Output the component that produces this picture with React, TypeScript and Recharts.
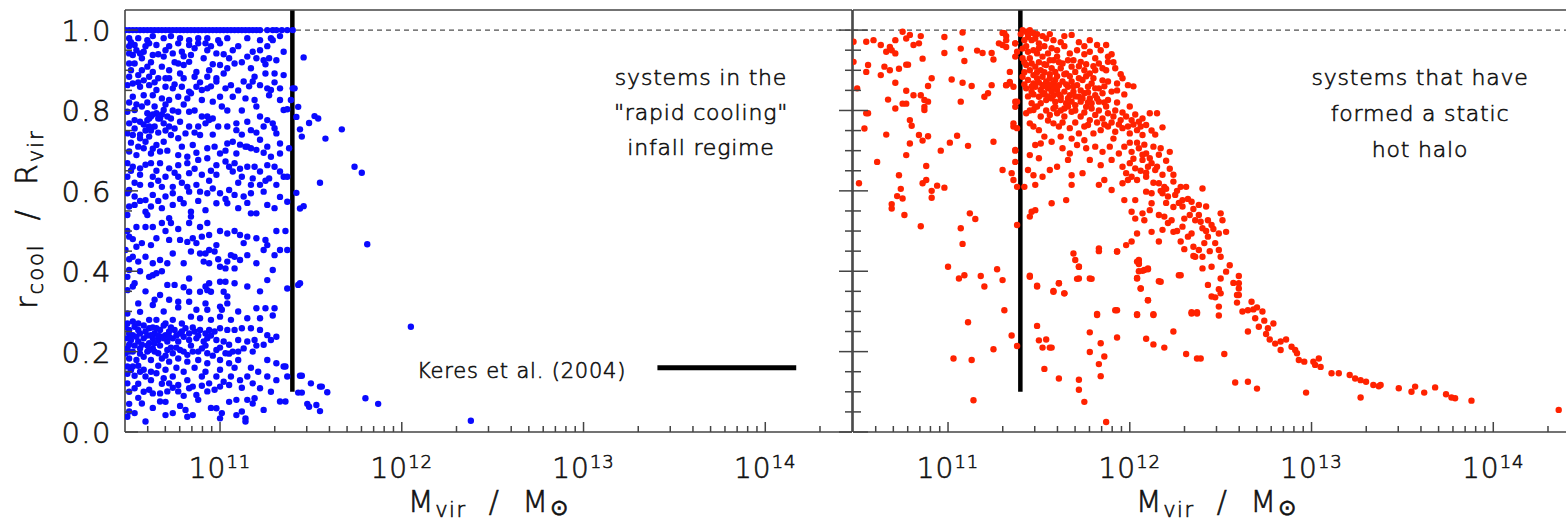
import React from 'react';
import { ReferenceLine, Scatter, ScatterChart, XAxis, YAxis } from 'recharts';

const FONT = '"DejaVu Sans", "Liberation Sans", sans-serif';
const INK = '#111';
const AXIS = '#444';
const BLUE = '#0a0aff';
const RED = '#ff2200';

// axes: virial mass (log) and r_cool / R_vir
const MASS_DOMAIN = [3e10, 3e14];
const R_DOMAIN = [0, 1.05];
const DECADES = [1e11, 1e12, 1e13, 1e14];
const MINOR_STEPS = [2, 3, 4, 5, 6, 7, 8, 9];
const LOW_MINORS = [4e10, 5e10, 6e10, 7e10, 8e10, 9e10];
const R_TICKS = [0, 0.05, 0.1, 0.15, 0.2, 0.25, 0.3, 0.35, 0.4, 0.45, 0.5, 0.55, 0.6, 0.65, 0.7, 0.75, 0.8, 0.85, 0.9, 0.95, 1.0];

// Keres et al. (2004) transition mass, drawn as the vertical bar
const CUT_MASS = 2.5e11;
const CUT_FLOOR = 0.1;
const KERES_SPAN = [2.55e13, 1.48e14];
const KERES_Y = 0.16;

// blue: log10(Mvir) of the haloes pinned at r_cool = R_vir
const BLUE_AT_UNITY = [
  10.48, 10.5, 10.52, 10.54, 10.56, 10.58, 10.6, 10.62, 10.64, 10.66, 10.68, 10.7, 10.72, 10.74, 10.76,
  10.78, 10.8, 10.82, 10.84, 10.86, 10.88, 10.9, 10.92, 10.94, 10.96, 10.98, 11.0, 11.02, 11.04, 11.06,
  11.08, 11.1, 11.12, 11.14, 11.16, 11.18, 11.2, 11.22, 11.26, 11.29, 11.31, 11.34, 11.37, 11.4,
];

// blue: [log10 Mvir, r_cool/R_vir], upper half
const BLUE_UPPER = [
  [10.5, .98], [10.55, .98], [10.6, .975], [10.63, .985], [10.69, .98], [10.73, .985], [10.78, .98], [10.83, .975], [10.88, .98], [10.93, .98], [10.99, .975], [11.04, .98], [11.15, .98], [11.22, .975], [11.28, .98], [11.33, .985],
  [10.5, .96], [10.53, .963], [10.58, .946], [10.61, .967], [10.65, .963], [10.72, .96], [10.77, .967], [10.83, .963], [10.88, .967], [10.92, .967], [10.95, .96], [11.0, .967], [11.1, .96], [11.18, .946], [11.22, .95], [11.26, .96], [11.29, .975], [11.35, .946],
  [10.5, .942], [10.52, .938], [10.56, .942], [10.63, .938], [10.69, .934], [10.74, .942], [10.79, .946], [10.84, .938], [10.93, .95], [10.98, .942], [11.05, .93], [11.15, .934], [11.24, .925], [11.27, .93], [11.31, .925],
  [10.5, .917], [10.53, .917], [10.57, .9], [10.6, .909], [10.63, .896], [10.68, .909], [10.72, .9], [10.77, .917], [10.8, .913], [10.83, .921], [10.87, .896], [10.94, .9], [11.0, .913], [11.04, .905], [11.08, .917], [11.17, .905], [11.19, .884], [11.25, .892], [11.3, .892], [11.35, .888],
  [10.5, .884], [10.55, .888], [10.61, .884], [10.66, .88], [10.72, .88], [10.78, .892], [10.86, .884], [10.93, .884], [10.98, .88], [11.02, .892],
  [10.49, .863], [10.52, .867], [10.56, .859], [10.61, .863], [10.65, .851], [10.7, .859], [10.74, .855], [10.79, .859], [10.83, .847], [10.84, .843], [10.87, .859], [10.9, .851], [10.93, .855], [10.98, .872], [11.06, .863], [11.13, .872], [11.18, .872], [11.22, .863], [11.26, .855], [11.28, .851], [11.33, .855],
  [10.52, .834], [10.58, .838], [10.63, .838], [10.68, .83], [10.72, .826], [10.77, .834], [10.82, .83], [10.9, .826], [10.96, .822], [11.0, .834], [11.07, .834], [11.14, .83], [11.19, .826], [11.27, .838], [11.33, .826], [11.4, .855], [11.39, .826],
  [10.49, .797], [10.53, .801], [10.6, .793], [10.62, .785], [10.65, .793], [10.67, .78], [10.69, .801], [10.71, .785], [10.73, .78], [10.77, .797], [10.83, .797], [10.9, .785], [10.93, .785], [10.96, .78], [11.01, .81], [11.09, .768], [11.15, .772], [11.22, .785], [11.26, .776], [11.29, .768], [11.35, .801], [11.37, .803],
  [10.5, .768], [10.53, .776], [10.56, .772], [10.6, .776], [10.64, .76], [10.69, .768], [10.72, .76], [10.78, .772], [10.83, .76], [10.88, .76], [10.92, .768], [10.94, .776], [10.99, .76], [11.04, .76], [11.09, .751], [11.17, .751], [11.24, .76], [11.3, .756], [11.31, .743],
  [10.61, .78], [10.63, .79], [10.66, .78], [10.68, .79], [10.61, .76], [10.56, .74], [10.59, .75],
  [10.49, .743], [10.52, .739], [10.56, .731], [10.59, .722], [10.61, .735], [10.65, .714], [10.69, .722], [10.73, .739], [10.77, .731], [10.81, .743], [10.85, .714], [10.89, .739], [10.93, .706], [10.97, .71], [11.04, .718], [11.07, .722], [11.14, .71], [11.17, .706], [11.22, .727], [11.26, .71], [11.33, .718], [11.38, .706],
  [10.5, .698], [10.54, .689], [10.58, .706], [10.62, .693], [10.67, .698], [10.77, .689], [10.82, .685], [10.93, .681], [11.0, .693], [11.09, .693], [11.15, .71], [11.2, .702], [11.28, .685], [11.33, .693],
  [10.49, .669], [10.52, .66], [10.56, .656], [10.62, .669], [10.67, .669], [10.72, .656], [10.77, .664], [10.82, .669], [10.88, .677], [10.98, .664], [11.03, .673], [11.08, .669], [11.15, .66], [11.19, .66], [11.22, .648], [11.26, .664], [11.33, .648],
  [10.49, .635], [10.56, .64], [10.63, .635], [10.7, .635], [10.77, .635], [10.83, .644], [10.9, .64], [10.98, .64], [11.07, .648], [11.12, .635], [11.18, .631], [11.27, .631], [11.35, .635], [11.37, .635],
  [10.5, .602], [10.56, .615], [10.62, .615], [10.68, .61], [10.74, .61], [10.82, .61], [10.87, .615], [10.96, .606], [11.05, .602], [11.17, .615], [11.22, .615], [11.31, .615],
  [10.49, .594], [10.53, .586], [10.59, .577], [10.63, .59], [10.7, .586], [10.74, .594], [10.83, .598], [10.89, .598], [10.93, .594], [11.0, .594], [11.08, .59], [11.13, .586], [11.17, .594], [11.24, .598],
  [10.5, .561], [10.53, .565], [10.59, .548], [10.62, .561], [10.68, .557], [10.74, .565], [10.8, .569], [10.84, .548], [10.92, .552], [10.98, .569], [11.04, .569], [11.1, .557], [11.17, .544], [11.2, .544], [11.26, .565], [11.3, .557], [11.37, .573],
  [10.49, .54], [10.6, .54], [10.72, .532], [10.84, .536],
  [10.51, .97], [10.54, .95], [10.57, .93], [10.59, .96], [10.62, .92], [10.66, .94], [10.7, .95], [10.75, .92], [10.8, .935], [10.86, .955], [10.91, .93], [10.96, .915], [11.02, .94], [11.07, .95], [11.12, .92], [11.2, .93], [11.25, .915],
  [10.51, .9], [10.55, .87], [10.58, .875], [10.64, .87], [10.7, .88], [10.75, .865], [10.8, .88], [10.89, .87], [10.95, .86], [11.03, .855], [11.1, .85], [11.16, .86], [11.3, .87],
  [10.5, .82], [10.54, .815], [10.57, .81], [10.6, .82], [10.64, .81], [10.7, .815], [10.74, .8], [10.8, .815], [10.86, .8], [11.04, .8], [11.12, .8], [11.2, .81],
  [10.53, .755], [10.58, .765], [10.62, .75], [10.66, .745], [10.7, .75], [10.75, .755], [10.86, .745], [10.96, .74], [11.12, .74], [11.2, .745],
  [10.51, .72], [10.55, .71], [10.63, .705], [10.71, .7], [10.79, .71], [10.87, .695], [11.03, .7], [11.11, .715], [11.24, .695],
  [10.51, .65], [10.59, .665], [10.65, .65], [10.75, .645], [10.86, .655], [10.95, .65], [11.05, .66], [11.11, .655], [11.3, .66],
  [10.53, .62], [10.66, .625], [10.79, .62], [10.94, .625], [11.1, .62], [11.25, .625],
  [10.56, .575], [10.66, .575], [10.78, .58], [10.88, .575], [11.03, .58], [11.15, .57], [11.33, .585],
];

// blue: lower half, with the dense clump near 0.2
const BLUE_LOWER = [
  [10.49, .5], [10.54, .51], [10.59, .51], [10.63, .51], [10.68, .52], [10.73, .52], [10.83, .52], [10.89, .51], [10.93, .52], [11.04, .494], [11.08, .5], [11.11, .49], [11.15, .486], [11.2, .482], [11.25, .478], [11.31, .5], [11.36, .5],
  [10.5, .486], [10.54, .461], [10.65, .482], [10.72, .478], [10.78, .478], [10.82, .473], [10.85, .482], [10.9, .486], [10.94, .49], [10.98, .465], [11.24, .453], [11.26, .465], [11.33, .453], [11.37, .453],
  [10.48, .453], [10.52, .436], [10.55, .424], [10.59, .436], [10.63, .42], [10.67, .428], [10.71, .42], [10.74, .444], [10.84, .449], [10.89, .444], [10.92, .444], [10.94, .453], [10.97, .449], [10.91, .424], [10.94, .42], [11.04, .424], [11.06, .44], [11.08, .436], [11.11, .428], [11.15, .44],
  [11.0, .411], [11.03, .407], [11.08, .407], [10.61, .386], [10.63, .39], [10.65, .395], [10.5, .403], [10.49, .386], [10.71, .366], [10.75, .366], [10.83, .382], [10.94, .37], [10.92, .362], [11.0, .374], [11.03, .374], [11.29, .403], [11.26, .378], [11.37, .357],
  [10.49, .353], [10.52, .362], [10.67, .341], [10.72, .329], [10.77, .324], [10.83, .349], [10.89, .349], [10.93, .353], [10.95, .349], [11.02, .349], [11.04, .337], [11.0, .312], [11.04, .32], [11.15, .362], [11.2, .308], [11.25, .308], [11.3, .308],
  [10.63, .316], [10.64, .329], [10.83, .324], [10.87, .304], [10.93, .304], [11.01, .304], [10.49, .295], [10.56, .299], [10.61, .279], [10.65, .279], [10.7, .27], [10.74, .279], [10.79, .27], [10.84, .287], [10.89, .283], [10.95, .279], [11.0, .287], [11.06, .279], [11.15, .283], [11.22, .283],
  [10.48, .262], [10.5, .254], [10.53, .262], [10.56, .245], [10.59, .25], [10.61, .258], [10.64, .245], [10.67, .254], [10.7, .241], [10.72, .25], [10.75, .254], [10.78, .245], [10.81, .258], [10.83, .245], [10.86, .25], [10.89, .254], [10.92, .245], [10.94, .254], [10.97, .25], [11.0, .258], [11.04, .254], [11.08, .254], [11.12, .258], [11.17, .258], [11.22, .254], [11.26, .241], [11.31, .237],
  [10.49, .233], [10.51, .229], [10.55, .225], [10.58, .233], [10.61, .221], [10.63, .233], [10.66, .229], [10.68, .237], [10.71, .225], [10.74, .233], [10.77, .225], [10.8, .237], [10.83, .229], [10.87, .233], [10.91, .225], [10.93, .233], [10.98, .229], [11.02, .225], [11.05, .217], [11.1, .229], [11.15, .225], [11.19, .229], [11.24, .217], [11.28, .229],
  [10.49, .208], [10.52, .2], [10.56, .208], [10.6, .2], [10.63, .208], [10.66, .196], [10.71, .204], [10.74, .196], [10.78, .204], [10.82, .192], [10.85, .2], [10.9, .208], [10.93, .196], [10.98, .204], [11.03, .196], [11.07, .2], [11.13, .208], [11.18, .2],
  [10.5, .183], [10.54, .179], [10.58, .187], [10.62, .179], [10.68, .183], [10.72, .175], [10.77, .183], [10.82, .175], [10.88, .179], [10.93, .171], [11.0, .179], [11.05, .171], [11.1, .179], [11.26, .179], [11.31, .171], [11.35, .163],
  [10.5, .245], [10.52, .241], [10.55, .254], [10.62, .241], [10.65, .258], [10.69, .233], [10.72, .237], [10.5, .217], [10.54, .237], [10.57, .217], [10.61, .204], [10.64, .221], [10.49, .163], [10.51, .154], [10.48, .196],
  [10.52, .163], [10.56, .15], [10.59, .138], [10.62, .129], [10.65, .146], [10.69, .134], [10.72, .121], [10.74, .138], [10.77, .117], [10.82, .129], [10.85, .113], [10.9, .138], [10.94, .121], [10.98, .138], [11.02, .125], [11.06, .138], [11.11, .129], [11.15, .138], [11.18, .121], [11.22, .109], [11.26, .138], [11.31, .129], [11.36, .163], [11.37, .138],
  [10.49, .121], [10.53, .109], [10.61, .105], [10.63, .096], [10.67, .096], [10.71, .101], [10.77, .101], [10.83, .109], [10.87, .092], [10.93, .101], [10.97, .105], [11.0, .113], [11.05, .117], [11.09, .08], [11.15, .08], [11.18, .071], [11.19, .084], [11.24, .055], [11.33, .076], [11.36, .076],
  [10.49, .038], [10.5, .051], [10.53, .047], [10.59, .026], [10.7, .042], [10.74, .047], [10.81, .055], [10.85, .042], [10.98, .059], [11.0, .034], [11.01, .047], [11.09, .042], [11.12, .051], [11.14, .034], [11.14, .026], [10.82, .038], [10.57, .071], [10.67, .076],
  [10.52, .48], [10.57, .47], [10.62, .465], [10.7, .5], [10.77, .505], [10.87, .47], [11.0, .5], [11.13, .47], [10.5, .43], [10.56, .4], [10.68, .4], [10.8, .42], [10.99, .43], [11.2, .42], [11.3, .44],
  [10.53, .37], [10.59, .35], [10.8, .36], [11.08, .37], [11.22, .35], [10.55, .32], [10.69, .3], [10.77, .31], [10.92, .32], [11.1, .3], [11.29, .29],
  [10.49, .27], [10.52, .275], [10.55, .27], [10.58, .265], [10.6, .24], [10.63, .26], [10.66, .24], [10.69, .265], [10.73, .26], [10.76, .24], [10.79, .25], [10.85, .26], [10.88, .24], [10.95, .24],
  [10.5, .2], [10.53, .215], [10.56, .195], [10.6, .215], [10.64, .2], [10.67, .215], [10.7, .19], [10.73, .21], [10.76, .21], [10.8, .2], [10.84, .215], [10.88, .2], [10.92, .215], [10.96, .19], [11.0, .21], [11.05, .195], [11.1, .2], [11.2, .215],
  [10.49, .145], [10.53, .14], [10.55, .165], [10.58, .155], [10.62, .15], [10.66, .165], [10.7, .155], [10.76, .16], [10.8, .15], [10.86, .16], [10.92, .15], [11.0, .155], [11.08, .16], [11.17, .16], [11.21, .15],
  [10.5, .1], [10.55, .12], [10.58, .1], [10.68, .12], [10.74, .11], [10.8, .09], [10.9, .115], [11.12, .11], [11.28, .1],
  [10.5, .07], [10.55, .085], [10.63, .06], [10.7, .075], [10.78, .065], [10.88, .08], [10.95, .06], [11.05, .075],
];

// blue haloes above the transition mass
const BLUE_ABOVE_CUT = [
  [11.46, .932], [11.43, .809], [11.42, .784], [11.44, .753], [11.45, .735], [11.49, .769], [11.52, .786], [11.54, .78], [11.58, .73], [11.67, .753], [11.74, .66], [11.78, .645],
  [11.55, .62], [11.42, .595], [11.44, .556], [11.46, .562], [11.81, .467], [11.41, .855], [12.05, .262], [12.38, .028],
  [11.44, .37], [11.43, .366], [11.44, .14], [11.45, .14], [11.5, .121], [11.55, .113], [11.56, .113], [11.59, .099], [11.43, .098], [11.45, .098],
  [11.48, .07], [11.49, .063], [11.53, .067], [11.55, .052], [11.8, .084], [11.87, .07],
];

// red: haloes below the transition mass
const RED_BELOW_CUT = [
  [10.55, .971], [10.59, .975], [10.63, .963], [10.66, .946], [10.68, .958], [10.69, .95], [10.71, .975], [10.75, .996], [10.77, .979], [10.79, .988], [10.81, .963], [10.84, .967], [10.85, .985], [10.98, .983], [11.08, .994],
  [10.98, .943], [11.07, .954], [11.09, .923], [11.16, .949], [11.19, .943], [11.24, .943], [11.25, .927], [11.28, .967], [11.3, .993], [11.32, .958], [11.32, .985],
  [10.56, .913], [10.55, .896], [10.63, .888], [10.65, .909], [10.68, .9], [10.71, .942], [10.73, .904], [10.77, .914], [10.78, .914], [10.86, .929],
  [10.5, .855], [10.71, .869], [10.77, .849], [10.81, .838], [10.85, .838], [10.87, .826], [10.89, .861], [10.91, .88], [11.02, .877], [11.08, .869], [11.13, .861], [11.2, .834], [11.22, .843], [11.24, .863], [11.32, .863], [11.34, .896],
  [10.67, .827], [10.71, .805], [10.75, .817], [10.77, .817], [10.87, .801], [10.87, .809], [10.89, .822], [11.07, .822], [10.56, .793], [10.54, .755], [10.79, .776], [10.8, .762],
  [10.66, .74], [10.79, .718], [10.84, .739], [10.86, .725], [10.89, .736], [10.96, .7], [11.01, .72], [11.05, .737], [11.11, .712], [11.25, .722], [10.77, .689], [10.61, .672], [10.88, .662], [10.73, .639], [11.3, .652], [11.35, .644],
  [10.51, .619], [10.86, .619], [10.94, .613], [10.88, .627], [10.98, .608], [10.74, .605], [10.91, .6], [10.69, .567], [10.69, .556], [10.72, .587], [10.75, .581], [10.91, .583], [10.76, .54], [11.12, .544], [11.15, .53], [10.85, .512], [11.07, .507], [11.08, .468],
  [11.36, .76], [11.37, .7], [11.34, .871], [11.36, .859], [11.37, .809], [11.38, .822], [11.36, .768], [11.36, .627], [11.37, .967], [11.38, .946], [11.37, .934], [10.48, .971], [10.48, .921], [10.55, .793],
  [11.0, .411], [11.06, .382], [11.09, .39], [11.18, .388], [11.2, .362], [11.27, .405], [11.3, .378], [11.11, .273], [11.03, .183], [11.13, .179], [11.25, .206], [11.31, .303], [11.35, .24], [11.14, .079], [11.38, .214],
  [11.31, .992], [11.32, .975], [11.3, .963], [11.37, .967], [11.34, .867], [11.32, .863], [11.37, .822], [11.38, .756], [11.37, .702], [11.37, .672], [11.38, .61], [11.38, .515],
];

// red: the hot-halo sequence above the transition mass
const RED_ABOVE_CUT = [
  [11.41, 1.0], [11.43, .996], [11.45, 1.0], [11.47, .992], [11.44, .983], [11.42, .975], [11.46, .975], [11.48, .979], [11.5, .967], [11.54, .979], [11.58, .975], [11.68, .988], [11.78, .975], [11.82, .963], [11.87, .963],
  [11.41, .954], [11.44, .946], [11.47, .95], [11.49, .942], [11.52, .934], [11.55, .942], [11.58, .925], [11.6, .934], [11.63, .917], [11.67, .942], [11.69, .925], [11.73, .921], [11.78, .946], [11.81, .93], [11.83, .917], [11.88, .934], [11.88, .921], [11.81, .9], [11.87, .9], [11.92, .905],
  [11.41, .93], [11.43, .913], [11.46, .917], [11.48, .909], [11.51, .9], [11.54, .913], [11.57, .905], [11.59, .896], [11.62, .905], [11.65, .892], [11.68, .909], [11.7, .896], [11.75, .9], [11.78, .892],
  [11.41, .884], [11.44, .876], [11.47, .888], [11.49, .88], [11.52, .884], [11.54, .872], [11.56, .88], [11.58, .867], [11.59, .876], [11.61, .863], [11.63, .872], [11.66, .859], [11.68, .872], [11.71, .863], [11.74, .876], [11.77, .859], [11.79, .867], [11.83, .855], [11.88, .872], [11.93, .867], [11.99, .863],
  [11.43, .855], [11.46, .847], [11.48, .859], [11.51, .851], [11.53, .843], [11.55, .855], [11.57, .847], [11.58, .838], [11.6, .851], [11.62, .834], [11.64, .847], [11.67, .838], [11.69, .847], [11.72, .834], [11.75, .843], [11.78, .83], [11.81, .838], [11.85, .843], [11.9, .847],
  [11.5, .834], [11.54, .826], [11.57, .83], [11.59, .822], [11.62, .826], [11.65, .818], [11.68, .822], [11.7, .813], [11.73, .822], [11.76, .809], [11.79, .818], [11.83, .822], [11.88, .826], [11.46, .818], [11.48, .809], [11.51, .818], [11.59, .809], [11.64, .805], [11.47, .867], [11.52, .863], [11.58, .859],
  [11.43, .793], [11.47, .801], [11.51, .785], [11.56, .789], [11.6, .793], [11.64, .785], [11.68, .797], [11.73, .785], [11.78, .776], [11.81, .789], [11.85, .78], [11.88, .793], [11.91, .785], [11.95, .776], [11.98, .785], [12.01, .776], [12.11, .793], [12.15, .793], [12.09, .764], [12.18, .758], [12.05, .772],
  [11.58, .768], [11.61, .76], [11.67, .756], [11.72, .743], [11.77, .764], [11.8, .743], [11.84, .751], [11.88, .76], [11.92, .747], [11.96, .756], [12.0, .743], [12.04, .751], [12.07, .739], [11.47, .76], [11.5, .751], [11.45, .768], [11.53, .735], [11.62, .735], [11.68, .73], [11.75, .726], [11.91, .73],
  [11.48, .714], [11.51, .718], [11.57, .722], [11.63, .706], [11.67, .693], [11.71, .714], [11.76, .706], [11.81, .71], [11.85, .697], [11.89, .71], [11.94, .693], [11.97, .71], [12.01, .697], [12.05, .706], [12.09, .693], [12.11, .681], [12.17, .706], [12.22, .697],
  [11.45, .689], [11.5, .681], [11.56, .652], [11.6, .66], [11.66, .677], [11.78, .677], [11.84, .664], [11.9, .677], [11.96, .66], [12.0, .669], [12.03, .656], [12.07, .677], [12.1, .66], [12.12, .669], [12.14, .652], [11.98, .644], [12.01, .635], [11.47, .639], [11.52, .635], [11.68, .639], [11.74, .644], [11.44, .652],
  [11.42, .61], [11.48, .615], [11.68, .615], [11.83, .615], [11.86, .627], [11.9, .602], [11.96, .619], [11.99, .627], [12.04, .627], [12.09, .635], [12.16, .619], [12.19, .61], [12.24, .623], [12.28, .61], [12.31, .61], [12.4, .606],
  [12.09, .598], [12.12, .594], [12.18, .594], [12.21, .586], [12.25, .59], [12.29, .577], [12.34, .573], [12.38, .565], [12.42, .561], [11.97, .577], [12.03, .577], [11.57, .569], [11.65, .577], [12.12, .569],
  [11.46, .548], [11.48, .552], [12.01, .548], [12.07, .544], [12.11, .552], [12.16, .54], [12.19, .536], [12.23, .527], [12.29, .561], [12.3, .531], [12.36, .527], [12.39, .523], [12.43, .527], [12.45, .515], [12.5, .544], [12.51, .527],
  [12.18, .503], [12.24, .498], [12.29, .511], [12.34, .494], [12.4, .507], [12.43, .486], [12.49, .494], [12.53, .498], [12.04, .494], [12.03, .531], [12.08, .527], [12.12, .498], [11.45, .536],
  [12.16, .474], [12.28, .474], [12.32, .486], [12.35, .461], [12.38, .453], [12.36, .436], [11.69, .444], [11.7, .428], [11.72, .411], [11.83, .457], [11.93, .449], [11.98, .465], [12.01, .474],
  [12.05, .428], [12.05, .42], [12.08, .403], [12.1, .407], [12.04, .382], [12.06, .357], [12.1, .328], [12.17, .374], [12.28, .39], [11.72, .382], [11.78, .382], [11.61, .37], [11.58, .349], [11.64, .345], [11.49, .362], [11.45, .386],
  [12.34, .295], [12.37, .295], [12.13, .291], [12.04, .291], [11.92, .303], [11.82, .291],
  [11.45, .389], [11.49, .364], [11.58, .351], [11.61, .37], [11.64, .345], [11.72, .411], [11.71, .381], [11.79, .381], [11.83, .45], [11.93, .449],
  [11.82, .294], [11.93, .303], [11.49, .264], [11.5, .228], [11.52, .21], [11.54, .23], [11.56, .21], [11.57, .21], [11.53, .157], [11.61, .133], [11.72, .13], [11.72, .105], [11.75, .075],
  [11.78, .248], [11.84, .221], [11.78, .199], [11.86, .188], [11.83, .169], [11.84, .139], [11.93, .235], [11.87, .025],
  [12.04, .424], [12.05, .418], [12.05, .4], [12.07, .401], [12.1, .405], [12.04, .383], [12.06, .357], [12.1, .328], [12.04, .293], [12.13, .293], [12.16, .375], [12.27, .39], [12.24, .25], [12.09, .232], [12.13, .218], [12.19, .21], [12.31, .194],
  [12.37, .183], [12.34, .298], [12.37, .298], [12.35, .438],
  [12.4, .436], [12.4, .407], [12.45, .411], [12.49, .453], [12.5, .436], [12.55, .415], [12.53, .399], [12.5, .382], [12.43, .366], [12.49, .355], [12.45, .337], [12.47, .335], [12.5, .345], [12.49, .312], [12.49, .29],
  [12.57, .371], [12.6, .388], [12.6, .37], [12.6, .357], [12.59, .341], [12.6, .341], [12.59, .322], [12.62, .3], [12.67, .324], [12.65, .303], [12.68, .305], [12.7, .31], [12.73, .3],
  [12.69, .283], [12.71, .262], [12.74, .277], [12.76, .258], [12.79, .27], [12.75, .244], [12.77, .23], [12.8, .22], [12.83, .225], [12.86, .23], [12.83, .204], [12.89, .212], [12.91, .204], [12.92, .196],
  [12.93, .179], [12.96, .175], [13.01, .175], [13.04, .183], [13.05, .162], [13.02, .167], [13.11, .146], [13.15, .146], [13.21, .142], [13.24, .133], [13.27, .129], [13.3, .125], [13.34, .117], [13.37, .114], [13.38, .117],
  [13.48, .109], [13.55, .1], [13.57, .113], [13.62, .098], [13.68, .111], [13.74, .094], [13.77, .086], [13.79, .084], [13.88, .078], [14.36, .055],
  [12.65, .25], [12.52, .194], [12.39, .183], [12.58, .123], [12.65, .125], [12.7, .108], [12.97, .098], [13.27, .086],
];

// red: the packed core just above the cut and the upper edge of the band
const RED_CORE = [
  [11.4, .99], [11.44, .99], [11.49, .99], [11.52, .985], [11.56, .99], [11.62, .97], [11.64, .985], [11.72, .97], [11.75, .96],
  [11.43, .96], [11.5, .955], [11.53, .96], [11.57, .955], [11.6, .95], [11.64, .96], [11.71, .95], [11.75, .94], [11.84, .95], [11.9, .94],
  [11.42, .92], [11.45, .93], [11.5, .92], [11.53, .915], [11.56, .925], [11.61, .92], [11.66, .925], [11.72, .91], [11.76, .915], [11.8, .91], [11.85, .905], [11.91, .92], [11.95, .89],
  [11.42, .895], [11.45, .9], [11.49, .895], [11.53, .895], [11.56, .89], [11.6, .885], [11.64, .89], [11.67, .885], [11.72, .88], [11.76, .885], [11.8, .88], [11.85, .875], [11.96, .88], [12.02, .86],
  [11.42, .865], [11.46, .86], [11.5, .87], [11.53, .86], [11.56, .865], [11.6, .86], [11.65, .865], [11.69, .86], [11.73, .85], [11.77, .845], [11.81, .855], [11.86, .86], [11.93, .85], [11.97, .84],
  [11.44, .835], [11.47, .84], [11.52, .84], [11.55, .835], [11.61, .84], [11.66, .83], [11.7, .835], [11.74, .83], [11.77, .82], [11.82, .83], [11.86, .82], [11.93, .82], [12.0, .81],
  [11.45, .8], [11.49, .81], [11.54, .8], [11.58, .805], [11.62, .8], [11.66, .81], [11.7, .8], [11.75, .795], [11.79, .805], [11.83, .8], [11.87, .81], [11.92, .8], [11.96, .795], [12.03, .79], [12.07, .78],
  [11.55, .775], [11.63, .77], [11.7, .77], [11.75, .76], [11.82, .77], [11.86, .765], [11.9, .77], [11.94, .765], [11.99, .76], [12.02, .765], [12.06, .76], [12.12, .75], [12.14, .74],
  [12.0, .72], [12.04, .72], [12.08, .715], [12.13, .71], [12.16, .69], [12.2, .675], [12.07, .69], [12.02, .68], [12.06, .65], [12.09, .645], [12.15, .66], [12.18, .64], [12.22, .655], [12.24, .64],
  [12.13, .62], [12.17, .6], [12.2, .605], [12.26, .6], [12.27, .57], [12.32, .58], [12.35, .555], [12.24, .56], [12.2, .57], [12.33, .54], [12.38, .54], [12.42, .5], [12.46, .505], [12.47, .47],
  [12.41, .47], [12.44, .45], [12.3, .455], [12.26, .5], [12.21, .52],
];

const X_TICKS = [...LOW_MINORS, ...DECADES.flatMap((d) => [d, ...MINOR_STEPS.map((s) => s * d)])].filter((v) => v < 2.99e14);

const toPoints = (rows: number[][]) => rows.map(([lm, r]) => ({ x: 10 ** lm, y: r }));
const BLUE_POINTS = [...BLUE_AT_UNITY.map((lm) => ({ x: 10 ** lm, y: 1.0 })), ...toPoints(BLUE_UPPER), ...toPoints(BLUE_LOWER), ...toPoints(BLUE_ABOVE_CUT)];
const RED_POINTS = [...toPoints(RED_BELOW_CUT), ...toPoints(RED_ABOVE_CUT), ...toPoints(RED_CORE)];

const PLOT_W = 727;
const isDecade = (v: number) => Math.abs(Math.log10(v) - Math.round(Math.log10(v))) < 1e-6;
const isMajorR = (v: number) => Math.abs(v * 5 - Math.round(v * 5)) < 1e-6;

// thin vector-style lettering: extra-light face with a hairline stroke
const textStyle = { fontFamily: FONT, fontWeight: 200, fill: INK, stroke: INK, strokeWidth: 0.6 } as const;

function XTick(props: any) {
  const { x, y, payload, dir, label } = props;
  const major = isDecade(payload.value);
  const len = major ? 10 : 6;
  return (
    <g>
      <line x1={x} y1={y} x2={x} y2={y + dir * len} stroke={AXIS} strokeWidth={1.5} />
      {label && major && (
        <text x={x} y={y + 46} textAnchor="middle" fontSize={28} letterSpacing={1} style={textStyle}>
          10<tspan dy={-10} fontSize={18}>{Math.round(Math.log10(payload.value))}</tspan>
        </text>
      )}
    </g>
  );
}

function YTick(props: any) {
  const { x, y, payload, dir, major: majorLen, minor: minorLen, label } = props;
  const major = isMajorR(payload.value);
  const len = major ? majorLen : minorLen;
  return (
    <g>
      <line x1={x} y1={y} x2={x + dir * len} y2={y} stroke={AXIS} strokeWidth={1.5} />
      {label && major && (
        <text x={x - 13} y={y + 11} textAnchor="end" fontSize={29} letterSpacing={1.5} style={textStyle}>
          {payload.value.toFixed(1)}
        </text>
      )}
    </g>
  );
}

// axes need a positive size to be drawn, so the labels side gets real room
function Panel({ points, color, leftPad, rightPad, yLabels, leftTick, rightTick }: any) {
  const axisLine = { stroke: AXIS, strokeWidth: 1.6 };
  const leftW = yLabels ? 60 : 1;
  return (
    <ScatterChart width={leftPad + PLOT_W + rightPad} height={525}
      margin={{ top: 9, right: rightPad - 1, bottom: 33, left: leftPad - leftW }}>
      <XAxis dataKey="x" type="number" scale="log" domain={MASS_DOMAIN} allowDataOverflow ticks={X_TICKS} interval={0} height={60}
        tickSize={0} tickMargin={0} tickLine={false} axisLine={axisLine} tick={(p: any) => <XTick {...p} dir={-1} label />} />
      <XAxis xAxisId="top" orientation="top" type="number" scale="log" domain={MASS_DOMAIN} allowDataOverflow ticks={X_TICKS} interval={0} height={1}
        tickSize={0} tickMargin={0} tickLine={false} axisLine={axisLine} tick={(p: any) => <XTick {...p} dir={1} />} />
      <YAxis dataKey="y" type="number" domain={R_DOMAIN} allowDataOverflow ticks={R_TICKS} interval={0} width={leftW}
        tickSize={0} tickMargin={0} tickLine={false} axisLine={axisLine} tick={(p: any) => <YTick {...p} dir={1} {...leftTick} label={yLabels} />} />
      <YAxis yAxisId="right" orientation="right" type="number" domain={R_DOMAIN} allowDataOverflow ticks={R_TICKS} interval={0} width={1}
        tickSize={0} tickMargin={0} tickLine={false} axisLine={axisLine} tick={(p: any) => <YTick {...p} dir={-1} {...rightTick} />} />
      <ReferenceLine y={1} stroke="#222" strokeWidth={1} strokeDasharray="5 4" />
      <Scatter data={points} isAnimationActive={false}
        shape={(p: any) => <circle cx={p.cx} cy={p.cy} r={3.2} fill={color} />} />
      <ReferenceLine segment={[{ x: CUT_MASS, y: CUT_FLOOR }, { x: CUT_MASS, y: R_DOMAIN[1] }]} stroke="#000" strokeWidth={4.5} />
      {yLabels && (
        <ReferenceLine segment={[{ x: KERES_SPAN[0], y: KERES_Y }, { x: KERES_SPAN[1], y: KERES_Y }]} stroke="#000" strokeWidth={5} />
      )}
    </ScatterChart>
  );
}

export default function App() {
  return (
    <div style={{ position: 'absolute', left: 0, top: 0, width: 1566, height: 525, overflow: 'hidden', background: '#fff' }}>
      <div style={{ position: 'absolute', left: 0, top: 0 }}>
        <Panel points={BLUE_POINTS} color={BLUE} leftPad={125} rightPad={2} yLabels
          leftTick={{ major: 13, minor: 7 }} rightTick={{ major: 13, minor: 7 }} />
      </div>
      <div style={{ position: 'absolute', left: 843, top: 0 }}>
        <Panel points={RED_POINTS} color={RED} leftPad={10} rightPad={10} yLabels={false}
          leftTick={{ major: 15, minor: 8 }} rightTick={{ major: 13, minor: 7 }} />
      </div>
      <svg width={1566} height={525} style={{ position: 'absolute', left: 0, top: 0, pointerEvents: 'none' }}>
        <text transform="translate(37,219) rotate(-90)" textAnchor="middle" fontSize={30} letterSpacing={2} style={textStyle}>
          r<tspan dy={6} fontSize={21}>cool</tspan><tspan dy={-6}>{'\u00a0\u00a0/\u00a0\u00a0'}</tspan>R<tspan dy={6} fontSize={21}>vir</tspan>
        </text>
        {[488.5, 1216.5].map((cx) => (
          <text key={cx} x={cx} y={512} textAnchor="middle" fontSize={30} letterSpacing={1.5} style={textStyle}>
            M<tspan dy={5} fontSize={21}>vir</tspan><tspan dy={-5}>{'\u00a0\u00a0/\u00a0\u00a0'}</tspan>M<tspan dy={3} fontSize={22}>{'\u2299'}</tspan>
          </text>
        ))}
        <g fontSize={22} textAnchor="middle" letterSpacing={0.8} style={textStyle}>
          <text x={701} y={85}>systems in the</text>
          <text x={701} y={120}>"rapid cooling"</text>
          <text x={701} y={155}>infall regime</text>
          <text x={1420} y={85}>systems that have</text>
          <text x={1420} y={121}>formed a static</text>
          <text x={1420} y={157}>hot halo</text>
        </g>
        <text x={417} y={378} fontSize={21} letterSpacing={0.8} style={textStyle}>Keres et al. (2004)</text>
      </svg>
    </div>
  );
}
